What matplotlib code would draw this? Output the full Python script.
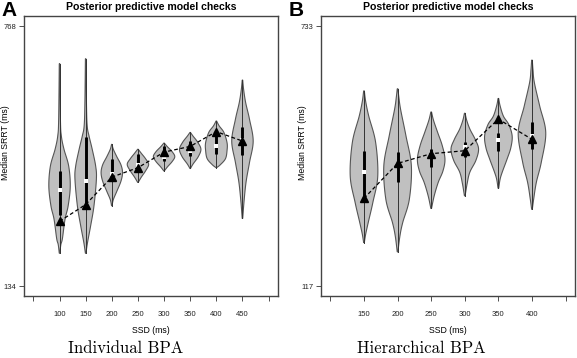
import numpy as np
import matplotlib
matplotlib.use("Agg")
import matplotlib.pyplot as plt

# ---- panel A: individual BPA ----
ssd_a = [100, 150, 200, 250, 300, 350, 400, 450]
med_a = [369, 390, 407, 429, 448, 464, 476, 490]
q1_a = [307, 334, 395, 419, 440, 452, 456, 453]
q3_a = [414, 497, 444, 456, 476, 488, 510, 523]
pred_a = [292, 333, 400, 423, 461, 475, 511, 488]
lev_a = [
    [214, 235, 250, 297, 330, 378, 427, 468, 500, 540, 677],
    [214, 240, 281, 330, 395, 427, 468, 500, 525, 580, 689],
    [330, 345, 365, 390, 411, 430, 450, 468, 480],
    [387, 400, 415, 431, 445, 458, 468],
    [415, 425, 438, 450, 462, 474, 483],
    [421, 432, 450, 468, 485, 500, 509],
    [423, 430, 445, 465, 484, 509, 525, 537],
    [299, 339, 388, 436, 488, 541, 582, 615, 637],
]
wid_a = [
    [0, 0.1, 0.25, 0.5, 0.8, 1.0, 0.85, 0.4, 0.15, 0.06, 0],
    [0, 0.15, 0.45, 0.77, 1.0, 0.93, 0.6, 0.3, 0.12, 0.05, 0],
    [0, 0.12, 0.45, 0.85, 1.0, 0.85, 0.45, 0.12, 0],
    [0, 0.3, 0.7, 1.0, 0.7, 0.3, 0],
    [0, 0.3, 0.75, 1.0, 0.75, 0.3, 0],
    [0, 0.25, 0.75, 1.0, 0.7, 0.25, 0],
    [0, 0.35, 0.85, 1.0, 1.0, 0.7, 0.25, 0],
    [0, 0.12, 0.32, 0.65, 1.0, 0.65, 0.28, 0.08, 0],
]

# ---- panel B: hierarchical BPA ----
ssd_b = [150, 200, 250, 300, 350, 400]
med_b = [388, 401, 422, 446, 463, 473]
q1_b = [327, 364, 399, 424, 438, 442]
q3_b = [438, 434, 442, 458, 480, 506]
pred_b = [325, 408, 431, 438, 513, 465]
lev_b = [
    [220, 240, 269, 316, 378, 458, 520, 555, 580],
    [198, 236, 268, 323, 402, 473, 536, 565, 585],
    [301, 331, 363, 390, 418, 450, 482, 510, 530],
    [331, 360, 387, 415, 442, 465, 489, 510, 527],
    [349, 370, 387, 418, 445, 473, 500, 520, 545, 562],
    [299, 323, 363, 411, 481, 544, 600, 630, 653],
]
wid_b = [
    [0, 0.1, 0.3, 0.64, 1.0, 0.84, 0.33, 0.1, 0],
    [0, 0.15, 0.36, 0.85, 1.0, 0.6, 0.2, 0.07, 0],
    [0, 0.2, 0.5, 0.85, 1.0, 0.8, 0.45, 0.15, 0],
    [0, 0.15, 0.35, 0.8, 1.0, 0.75, 0.36, 0.12, 0],
    [0, 0.1, 0.26, 0.62, 0.9, 1.0, 0.75, 0.35, 0.1, 0],
    [0, 0.1, 0.3, 0.67, 1.0, 0.55, 0.15, 0.05, 0],
]


def smooth_outline(levels, widths, n=16):
    # Catmull-Rom through the profile points so the outline looks smooth
    pts = np.column_stack([levels, widths]).astype(float)
    pts = np.vstack([pts[0], pts, pts[-1]])
    out = []
    t = np.linspace(0, 1, n, endpoint=False)[:, None]
    for i in range(1, len(pts) - 2):
        p0, p1, p2, p3 = pts[i - 1], pts[i], pts[i + 1], pts[i + 2]
        seg = 0.5 * (2 * p1 + (-p0 + p2) * t
                     + (2 * p0 - 5 * p1 + 4 * p2 - p3) * t ** 2
                     + (-p0 + 3 * p1 - 3 * p2 + p3) * t ** 3)
        out.append(seg)
    out.append(pts[-2][None])
    arr = np.vstack(out)
    return arr[:, 0], np.clip(arr[:, 1], 0, None) + 0.025


def draw_panel(ax, ssd, med, q1, q3, pred, lev, wid, ymin, ymax):
    nticks = len(ssd) + 2
    pos = np.arange(1, len(ssd) + 1)
    for i, p in enumerate(pos):
        y, w = smooth_outline(lev[i], wid[i])
        xs = np.concatenate([p - 0.4 * w, (p + 0.4 * w)[::-1]])
        ys = np.concatenate([y, y[::-1]])
        ax.fill(xs, ys, facecolor="#c0c0c0", edgecolor="#555555", lw=0.8, zorder=2)
        ax.plot([p, p], [lev[i][0], lev[i][-1]], color="#333333", lw=0.7, zorder=3)
        ax.plot([p, p], [q1[i], q3[i]], color="black", lw=2.1,
                solid_capstyle="butt", zorder=4)
        ax.plot(p, med[i], "s", color="white", ms=2.4, mew=0, zorder=5)
    ax.plot(pos, pred, "--", color="black", lw=0.9, dashes=(3, 2), zorder=6)
    ax.plot(pos, pred, "^", color="black", ms=6, zorder=7)

    span = nticks - 1
    ax.set_xlim(-0.04 * span, span + 0.04 * span)
    yr = ymax - ymin
    ax.set_ylim(ymin - 0.04 * yr, ymax + 0.04 * yr)
    ax.set_xticks(np.arange(nticks))
    ax.set_xticklabels([""] + [str(s) for s in ssd] + [""])
    ax.set_yticks([ymin, ymax])
    ax.set_yticklabels([str(ymin), str(ymax)])
    ax.tick_params(axis="both", labelsize=5.5, length=3.5, width=0.6,
                   color="#333333", labelcolor="#222222", pad=2)
    ax.tick_params(axis="x", pad=7)
    for sp in ax.spines.values():
        sp.set_color("#444444")
        sp.set_linewidth(1.0)
    ax.set_xlabel("SSD (ms)", fontsize=6.3, labelpad=6)
    ax.set_ylabel("Median SRRT (ms)", fontsize=6.3)
    ax.yaxis.set_label_coords(-0.055, 0.55)
    ax.set_title("Posterior predictive model checks", fontsize=7.6,
                 fontweight="bold", pad=4)


def main():
    plt.rcParams["font.family"] = ["Liberation Sans", "DejaVu Sans"]
    fig = plt.figure(figsize=(5.77, 3.58), dpi=100)
    ax_a = fig.add_axes([0.0416, 0.1720, 0.4402, 0.7833])
    ax_b = fig.add_axes([0.5563, 0.1720, 0.4402, 0.7833])

    draw_panel(ax_a, ssd_a, med_a, q1_a, q3_a, pred_a, lev_a, wid_a, 134, 768)
    draw_panel(ax_b, ssd_b, med_b, q1_b, q3_b, pred_b, lev_b, wid_b, 117, 733)

    fig.text(0.003, 0.997, "A", fontsize=15, fontweight="bold", va="top")
    fig.text(0.501, 0.997, "B", fontsize=15, fontweight="bold", va="top")
    fig.text(0.217, 0.006, "Individual BPA", fontsize=12, family="cmr10",
             ha="center", va="bottom")
    fig.text(0.731, 0.006, "Hierarchical BPA", fontsize=12, family="cmr10",
             ha="center", va="bottom")

    fig.savefig("out.png", dpi=100)
    return 0


if __name__ == "__main__":
    main()
